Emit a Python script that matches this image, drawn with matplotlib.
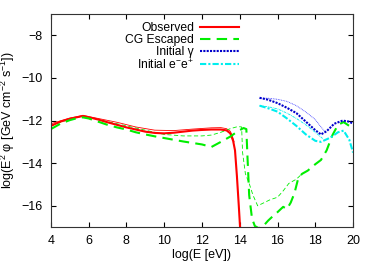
import matplotlib
matplotlib.use('Agg')
import matplotlib.pyplot as plt

plt.rcParams['font.family'] = ['Liberation Sans', 'DejaVu Sans']
plt.rcParams['mathtext.fontset'] = 'custom'
plt.rcParams['mathtext.rm'] = 'Liberation Sans'
plt.rcParams['mathtext.it'] = 'Liberation Sans:italic'

# observed (thick) and companion thin curve
obs_x = [4.0, 4.5, 5.0, 5.5, 5.7, 6.0, 6.5, 7.0, 7.5, 8.0, 8.5, 9.0, 9.5, 10.0, 10.5, 11.0,
         11.5, 12.0, 12.5, 13.0, 13.3, 13.5, 13.65, 13.75, 13.85, 13.95, 14.05]
obs_y = [-12.25, -12.05, -11.92, -11.82, -11.78, -11.84, -11.95, -12.08, -12.2, -12.32, -12.42,
         -12.52, -12.58, -12.6, -12.57, -12.52, -12.47, -12.44, -12.42, -12.42, -12.46, -12.6,
         -12.95, -13.4, -14.6, -16.0, -17.5]
obs2_x = [4.0, 5.0, 5.7, 6.5, 7.5, 8.5, 9.5, 10.5, 11.5, 12.5, 13.0, 13.3, 13.5, 13.6, 13.7]
obs2_y = [-12.15, -11.88, -11.76, -11.9, -12.08, -12.3, -12.45, -12.47, -12.4, -12.34, -12.33,
          -12.38, -12.5, -12.7, -13.0]

# CG escaped (thick dashed) and thin dashed
cg_x = [4.0, 4.5, 5.0, 5.5, 5.7, 6.0, 6.5, 7.0, 7.5, 8.0, 8.5, 9.0, 9.5, 10.0, 10.5, 11.0,
        11.5, 12.0, 12.5, 13.0, 13.5, 13.9, 14.2, 14.35, 14.4, 14.5, 14.65, 14.8, 15.0, 15.2,
        15.5, 15.8, 16.0, 16.3, 16.5, 16.7, 16.9, 17.1, 17.3, 17.6, 18.0, 18.3, 18.6, 18.9,
        19.2, 19.5, 19.8, 20.0]
cg_y = [-12.4, -12.15, -11.98, -11.86, -11.85, -11.9, -12.05, -12.2, -12.32, -12.42, -12.55,
        -12.65, -12.74, -12.82, -12.9, -12.98, -13.05, -13.12, -13.24, -13.0, -12.75, -12.5,
        -12.35, -12.4, -13.5, -15.5, -16.6, -16.95, -17.05, -17.0, -16.7, -16.45, -16.3, -16.05,
        -16.15, -15.85, -15.4, -14.7, -14.5, -14.35, -14.05, -13.85, -13.4, -12.7, -12.2,
        -12.07, -12.25, -12.45]
cg2_x = [4.0, 5.0, 5.7, 6.5, 7.5, 8.5, 9.5, 10.0, 11.0, 12.0, 12.5, 13.0, 13.5, 13.9, 14.1,
         14.15, 14.3, 14.5, 14.7, 14.95, 15.3, 15.6, 16.0, 16.3, 16.6, 17.0, 17.3]
cg2_y = [-12.25, -11.92, -11.8, -11.95, -12.15, -12.35, -12.55, -12.65, -12.72, -12.72, -12.68,
         -12.55, -12.38, -12.28, -12.3, -13.5, -14.5, -14.95, -15.5, -16.0, -15.85, -15.72,
         -15.6, -15.3, -14.95, -14.75, -14.5]

# initial gamma (dotted) and thin dotted
gam_x = [15.05, 15.5, 16.0, 16.5, 17.0, 17.5, 18.0, 18.3, 18.6, 19.0, 19.45, 19.8, 20.0]
gam_y = [-10.93, -11.02, -11.18, -11.4, -11.65, -12.05, -12.45, -12.65, -12.5, -12.15,
         -12.0, -12.05, -12.15]
gam2_x = [15.05, 15.5, 16.0, 16.5, 17.0, 17.5, 18.0, 18.3, 18.5]
gam2_y = [-10.95, -10.95, -11.0, -11.1, -11.3, -11.6, -11.95, -12.3, -12.5]

# initial e-e+ (dash-dot) and thin dash-dot
ee_x = [15.05, 15.5, 16.0, 16.5, 17.0, 17.5, 18.0, 18.3, 18.8, 19.2, 19.5, 19.8, 20.0]
ee_y = [-11.3, -11.42, -11.58, -11.9, -12.25, -12.65, -12.95, -13.0, -12.8, -12.55, -12.47,
        -12.9, -13.5]
ee2_x = [15.05, 15.5, 16.0, 16.5, 17.0, 17.5, 18.0, 18.4]
ee2_y = [-11.3, -11.35, -11.45, -11.65, -11.9, -12.2, -12.55, -12.85]

fig = plt.figure(figsize=(3.74, 2.61), dpi=100)
ax = fig.add_axes([0.136, 0.130, 0.808, 0.816])

ax.plot(obs2_x, obs2_y, color='#ff0000', lw=0.6)
ax.plot(cg2_x, cg2_y, color='#00ee00', lw=0.6, dashes=(5, 3))
ax.plot(gam2_x, gam2_y, color='#3333ff', lw=0.6, dashes=(1, 1))
ax.plot(ee2_x, ee2_y, color='#00eeee', lw=0.6, dashes=(3, 1, 1, 1))

ax.plot(obs_x, obs_y, color='#ff0000', lw=1.5, label='Observed')
ax.plot(cg_x, cg_y, color='#00ee00', lw=1.5, dashes=(5, 3), label='CG Escaped')
ax.plot(gam_x, gam_y, color='#0000cc', lw=1.5, dashes=(1, 0.6), label='Initial γ')
ax.plot(ee_x, ee_y, color='#00eeee', lw=1.5, dashes=(3, 1, 1, 1), label=r'Initial e$^{-}$e$^{+}$')

ax.set_xlim(4, 20)
ax.set_ylim(-17, -7)
ax.set_xticks([4, 6, 8, 10, 12, 14, 16, 18, 20])
ax.set_yticks([-16, -14, -12, -10, -8])
ax.tick_params(direction='in', top=True, right=True, length=3.5, labelsize=9, pad=6)
for s in ax.spines.values():
    s.set_color('#333333')
ax.set_xlabel('log(E [eV])', fontsize=9, labelpad=1)
ax.set_ylabel(r'log(E$^2$ φ [GeV cm$^{-2}$ s$^{-1}$])', fontsize=9, labelpad=3)

ax.legend(loc='upper right', bbox_to_anchor=(0.63, 0.975), frameon=False, markerfirst=False,
          fontsize=8.7, handlelength=3.2, handletextpad=0.5, labelspacing=0.0,
          borderaxespad=0.1, borderpad=0.1)

fig.savefig('out.png', dpi=100)
